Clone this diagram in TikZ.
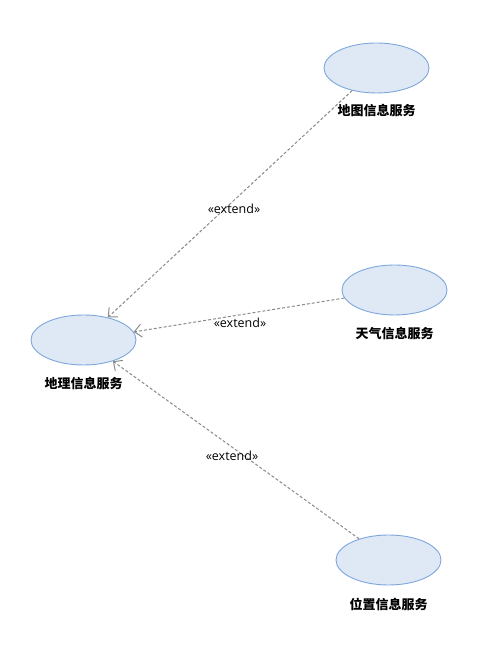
\documentclass[tikz,border=0pt]{standalone}
\usepackage{fontspec}
\setmainfont{Open Sans}
\newfontfamily\cjk{Noto Sans CJK SC}
\usetikzlibrary{arrows.meta, shapes.geometric}
\definecolor{usefill}{HTML}{DFE9F5}
\definecolor{usedraw}{HTML}{7EA6DC}
\definecolor{extgray}{HTML}{8A8A8A}

\begin{document}
\begin{tikzpicture}[x=1pt, y=1pt,
    usecase/.style={ellipse, draw=usedraw, fill=usefill, line width=0.9pt,
        minimum width=105pt, minimum height=50pt, inner sep=0pt},
    ucname/.style={font=\cjk\bfseries\fontsize{13}{15}\selectfont, inner sep=0pt},
    extend/.style={draw=extgray, line width=1pt, dash pattern=on 3pt off 2pt,
        -{Straight Barb[length=7pt, width=13pt]}},
    stereo/.style={font=\fontsize{12.5}{14}\selectfont, inner sep=0pt}
]
    \useasboundingbox (0,0) rectangle (496,660);
    \node[usecase] (geo) at (83.5,320) {};
    \node[usecase] (map) at (376.5,592) {};
    \node[usecase] (weather) at (394.5,370) {};
    \node[usecase] (pos) at (388.5,100) {};
    \node[ucname] (geol) at (83.5,276) {地理信息服务};
    \node[ucname] (mapl) at (376.5,549) {地图信息服务};
    \node[ucname] (weatherl) at (394.5,326) {天气信息服务};
    \node[ucname] (posl) at (388.5,56) {位置信息服务};
    \draw[extend] (map) -- node[stereo, pos=0.5, xshift=4pt, yshift=-5pt] {«extend»} (geo);
    \draw[extend] (weather) -- node[stereo, pos=0.5, xshift=1pt, yshift=-8pt] {«extend»} (geo);
    \draw[extend] (pos) -- node[stereo, pos=0.5, xshift=-4pt, yshift=-6pt] {«extend»} (geo);
\end{tikzpicture}
\end{document}
